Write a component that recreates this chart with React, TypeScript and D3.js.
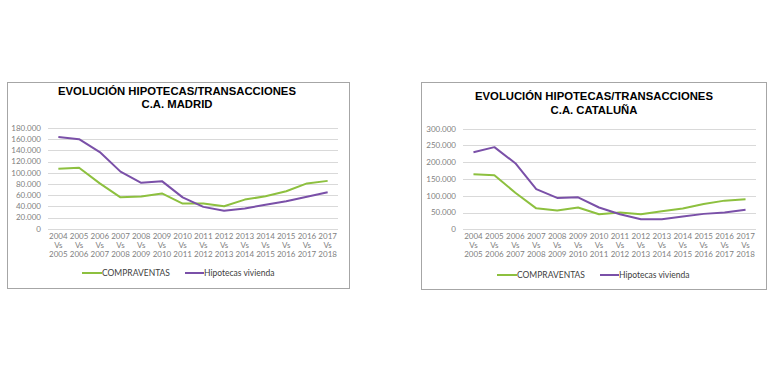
import React from 'react';
import * as d3 from 'd3';

const startYears = [2004, 2005, 2006, 2007, 2008, 2009, 2010, 2011, 2012, 2013, 2014, 2015, 2016, 2017];

const madridCompraventas = [107000, 109000, 81000, 56000, 57500, 63000, 45000, 45000, 40000, 52000, 58000, 67000, 81000, 85500];
const madridHipotecas = [164000, 160000, 137000, 102000, 82000, 85000, 56000, 39000, 32000, 36000, 43000, 49000, 57000, 65000];
const madridTicks = [0, 20000, 40000, 60000, 80000, 100000, 120000, 140000, 160000, 180000];

const cataCompraventas = [164000, 161000, 109000, 62500, 56000, 65000, 45000, 50000, 45000, 54000, 62000, 75500, 85500, 89500];
const cataHipotecas = [230000, 245000, 197000, 120000, 93500, 95500, 65000, 45000, 30000, 30000, 38000, 46000, 50000, 58000];
const cataTicks = [0, 50000, 100000, 150000, 200000, 250000, 300000];

const seriesNames = ['COMPRAVENTAS', 'Hipotecas vivienda'];
const GREEN = '#8dc03f';
const PURPLE = '#7a50a8';

const locale = d3.formatLocale({ decimal: ',', thousands: '.', grouping: [3], currency: ['', ''] });
const fmt = locale.format(',');

type PanelProps = {
  title: string[];
  a: number[];
  b: number[];
  ticks: number[];
  frame: { x: number; y: number; w: number; h: number };
  plot: { x0: number; x1: number; top: number; bottom: number };
  titleX: number;
  titleY: number[];
  legendY: number;
  legendX: number;
};

function Panel(p: PanelProps) {
  const x = d3.scaleBand<number>().domain(startYears).range([p.plot.x0, p.plot.x1]);
  const y = d3.scaleLinear().domain([0, p.ticks[p.ticks.length - 1]]).range([p.plot.bottom, p.plot.top]);
  const line = d3.line<number>()
    .x((_, i) => (x(startYears[i]) as number) + x.bandwidth() / 2)
    .y(d => y(d));
  const labelY = p.plot.bottom + 10;
  return (
    <g>
      <rect x={p.frame.x + 0.5} y={p.frame.y + 0.5} width={p.frame.w} height={p.frame.h} fill="#fff" stroke="#a6a6a6" strokeWidth={1} />
      {p.title.map((t, i) => (
        <text key={i} x={p.titleX} y={p.titleY[i]} textAnchor="middle" fontFamily="Liberation Sans, Arial, sans-serif" fontWeight="bold" fontSize={11.3} fill="#000">{t}</text>
      ))}
      {p.ticks.map(t => (
        <g key={t}>
          <line x1={p.plot.x0} x2={p.plot.x1} y1={Math.round(y(t)) + 0.5} y2={Math.round(y(t)) + 0.5} stroke="#d9d9d9" strokeWidth={1} />
          <text x={p.plot.x0 - 7} y={y(t)} dy="0.35em" textAnchor="end" fontFamily="Lato, sans-serif" fontSize={8} fill="#7f7f7f">{fmt(t)}</text>
        </g>
      ))}
      {startYears.map(yr => {
        const cx = (x(yr) as number) + x.bandwidth() / 2;
        return (
          <text key={yr} x={cx} y={labelY} textAnchor="middle" fontFamily="Lato, sans-serif" fontSize={8} fill="#7f7f7f">
            <tspan x={cx} dy="0">{yr}</tspan>
            <tspan x={cx} dy="9">Vs</tspan>
            <tspan x={cx} dy="9">{yr + 1}</tspan>
          </text>
        );
      })}
      <path d={line(p.a) || ''} fill="none" stroke={GREEN} strokeWidth={2} strokeLinejoin="round" />
      <path d={line(p.b) || ''} fill="none" stroke={PURPLE} strokeWidth={2} strokeLinejoin="round" />
      <g fontFamily="Lato, sans-serif" fontSize={8.5} fill="#404040">
        <line x1={p.legendX} x2={p.legendX + 20} y1={p.legendY} y2={p.legendY} stroke={GREEN} strokeWidth={2} />
        <text x={p.legendX + 20} y={p.legendY} dy="0.35em">{seriesNames[0]}</text>
        <line x1={p.legendX + 103} x2={p.legendX + 122} y1={p.legendY} y2={p.legendY} stroke={PURPLE} strokeWidth={2} />
        <text x={p.legendX + 122} y={p.legendY} dy="0.35em">{seriesNames[1]}</text>
      </g>
    </g>
  );
}

export default function App() {
  return (
    <svg width={770} height={370} style={{ position: 'absolute', left: 0, top: 0, background: '#fff' }}>
      <rect width={770} height={370} fill="#fff" />
      <Panel
        title={['EVOLUCIÓN HIPOTECAS/TRANSACCIONES', 'C.A. MADRID']}
        a={madridCompraventas}
        b={madridHipotecas}
        ticks={madridTicks}
        frame={{ x: 7, y: 82, w: 342, h: 206 }}
        plot={{ x0: 48, x1: 338, top: 128, bottom: 228.7 }}
        titleX={177}
        titleY={[95, 108]}
        legendY={273}
        legendX={82}
      />
      <Panel
        title={['EVOLUCIÓN HIPOTECAS/TRANSACCIONES', 'C.A. CATALUÑA']}
        a={cataCompraventas}
        b={cataHipotecas}
        ticks={cataTicks}
        frame={{ x: 421, y: 82, w: 345, h: 207 }}
        plot={{ x0: 463, x1: 756, top: 128.7, bottom: 229.3 }}
        titleX={594}
        titleY={[100, 114]}
        legendY={275}
        legendX={497}
      />
    </svg>
  );
}
